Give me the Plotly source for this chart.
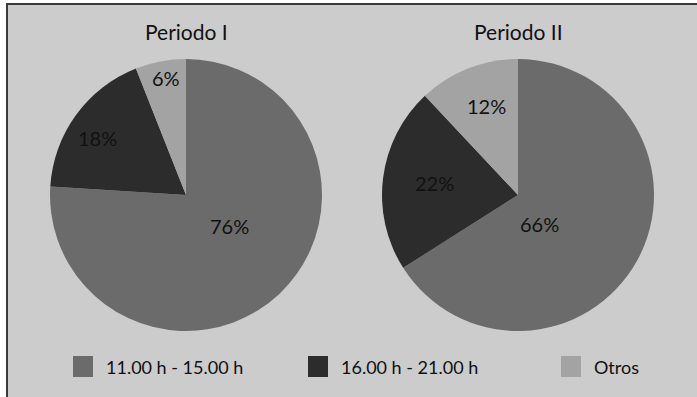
import plotly.graph_objects as go

# Time slots and their share in each period
categories = ["11.00 h - 15.00 h", "16.00 h - 21.00 h", "Otros"]
periodo_1 = [76, 18, 6]
periodo_2 = [66, 22, 12]
titles = ["Periodo I", "Periodo II"]

colors = ["#6b6b6b", "#2c2c2c", "#a3a3a3"]
bg = "#cccccc"
font_family = "Lato"

W, H = 697, 397


def px_x(p):
    return p / W


def px_y(p):
    return 1 - p / H


fig = go.Figure()

# Pie domains in pixel space (left, right, top, bottom)
domains = [(50, 322, 59, 331), (382, 654, 59, 331)]
# Offsets (px from each pie centre) for the percentage labels of each slice
label_offsets = [
    [(44, 31), (-89, -57), (-20, -117)],
    [(21, 29), (-84, -12), (-32, -89)],
]

annotations = []
for vals, (l, r, t, b), name, offs in zip([periodo_1, periodo_2], domains, titles, label_offsets):
    fig.add_trace(go.Pie(
        labels=categories,
        values=vals,
        name=name,
        sort=False,
        direction="clockwise",
        rotation=0,
        marker=dict(colors=colors, line=dict(width=0)),
        textinfo="none",
        domain=dict(x=[px_x(l), px_x(r)], y=[px_y(b), px_y(t)]),
        showlegend=False,
        hoverinfo="label+percent",
    ))
    cx, cy = (l + r) / 2, (t + b) / 2
    for v, (dx, dy) in zip(vals, offs):
        annotations.append(dict(
            text=f"{v}%", x=px_x(cx + dx), y=px_y(cy + dy), xref="paper", yref="paper",
            showarrow=False, xanchor="center", yanchor="middle",
            font=dict(family=font_family, size=20, color="#111111"),
        ))

shapes = [
    # white strips and dark frame line at the top-left edges
    dict(type="rect", xref="paper", yref="paper", x0=0, x1=px_x(6), y0=0, y1=1,
         fillcolor="white", line=dict(width=0), layer="above"),
    dict(type="rect", xref="paper", yref="paper", x0=0, x1=1, y0=px_y(3), y1=1,
         fillcolor="white", line=dict(width=0), layer="above"),
    dict(type="rect", xref="paper", yref="paper", x0=px_x(6), x1=px_x(8), y0=0, y1=px_y(3),
         fillcolor="#3a3a3a", line=dict(width=0), layer="above"),
    dict(type="rect", xref="paper", yref="paper", x0=px_x(6), x1=1, y0=px_y(5), y1=px_y(3),
         fillcolor="#3a3a3a", line=dict(width=0), layer="above"),
]

# Titles above each pie
for name, (l, r, t, b) in zip(titles, domains):
    annotations.append(dict(
        text=name, x=px_x((l + r) / 2), y=px_y(32), xref="paper", yref="paper",
        showarrow=False, xanchor="center", yanchor="middle",
        font=dict(family=font_family, size=21, color="#111111"),
    ))

# Legend drawn as swatches with labels
legend_x = [73, 308, 561]
for cat, col, x0 in zip(categories, colors, legend_x):
    shapes.append(dict(
        type="rect", xref="paper", yref="paper",
        x0=px_x(x0), x1=px_x(x0 + 20), y0=px_y(377), y1=px_y(356),
        fillcolor=col, line=dict(width=0),
    ))
    annotations.append(dict(
        text=cat, x=px_x(x0 + 31), y=px_y(367), xref="paper", yref="paper",
        showarrow=False, xanchor="left", yanchor="middle",
        font=dict(family=font_family, size=18, color="#111111"),
    ))

fig.update_layout(
    width=W, height=H,
    margin=dict(l=0, r=0, t=0, b=0),
    paper_bgcolor=bg,
    plot_bgcolor=bg,
    shapes=shapes,
    annotations=annotations,
    showlegend=False,
)

fig.write_html("out.html")
